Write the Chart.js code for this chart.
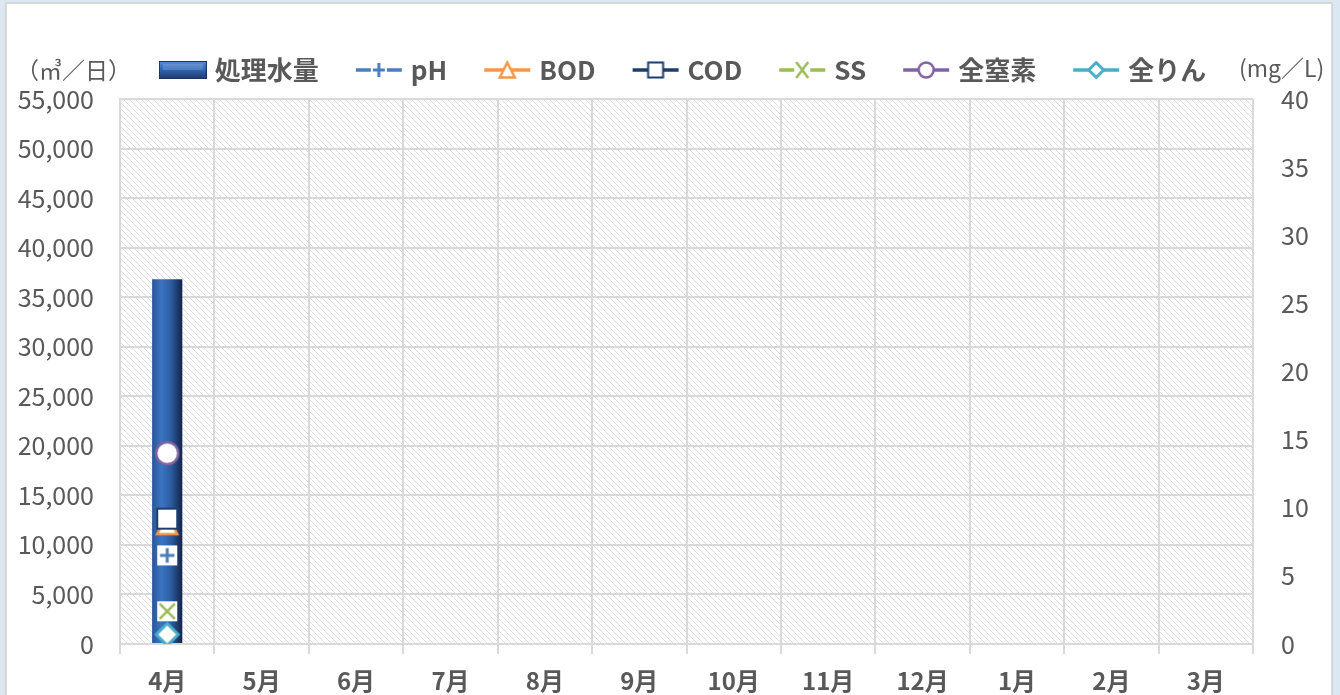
<!DOCTYPE html>
<html>
<head>
<meta charset="utf-8">
<script src="https://cdn.jsdelivr.net/npm/chart.js@4"></script>
<style>
  html, body { margin: 0; padding: 0; background: #fff; }
  #wrap { width: 1340px; height: 695px; }
</style>
</head>
<body>
<div id="wrap"><canvas id="chart" width="1340" height="695"></canvas></div>
<script>
// Data
const months = ['4月', '5月', '6月', '7月', '8月', '9月', '10月', '11月', '12月', '1月', '2月', '3月'];
const flow = [36800, null, null, null, null, null, null, null, null, null, null, null];
const ph = [6.5, null, null, null, null, null, null, null, null, null, null, null];
const bod = [8.8, null, null, null, null, null, null, null, null, null, null, null];
const cod = [9.2, null, null, null, null, null, null, null, null, null, null, null];
const ss = [2.4, null, null, null, null, null, null, null, null, null, null, null];
const tn = [14.0, null, null, null, null, null, null, null, null, null, null, null];
const tp = [0.7, null, null, null, null, null, null, null, null, null, null, null];

const seriesNames = ['処理水量', 'pH', 'BOD', 'COD', 'SS', '全窒素', '全りん'];
const leftTicks = [0, 5000, 10000, 15000, 20000, 25000, 30000, 35000, 40000, 45000, 50000, 55000];
const rightTicks = [0, 5, 10, 15, 20, 25, 30, 35, 40];

const FONT = "'Noto Sans CJK JP', 'Noto Sans', sans-serif";
const TEXT = '#595959';
const GRID = '#d9d9d9';

const colors = {
    ph: '#4a7ebb',
    bod: '#f79646',
    cod: '#1f3d6b',
    ss: '#9bbb59',
    tn: '#8064a2',
    tp: '#4bacc6'
};

// Marker drawing
function drawMarker(c, type, color, cx, cy, s) {
    c.save();
    c.lineJoin = 'miter';
    if (type === 'circle') {
        c.beginPath();
        c.arc(cx, cy, s / 2, 0, Math.PI * 2);
        c.fillStyle = '#fff';
        c.fill();
        c.lineWidth = 2.5;
        c.strokeStyle = color;
        c.stroke();
    } else if (type === 'square') {
        c.fillStyle = '#fff';
        c.fillRect(cx - s / 2, cy - s / 2, s, s);
        c.lineWidth = 2;
        c.strokeStyle = color;
        c.strokeRect(cx - s / 2, cy - s / 2, s, s);
    } else if (type === 'triangle') {
        c.beginPath();
        c.moveTo(cx, cy - s / 2);
        c.lineTo(cx + s / 2, cy + s / 2);
        c.lineTo(cx - s / 2, cy + s / 2);
        c.closePath();
        c.fillStyle = '#fff';
        c.fill();
        c.lineWidth = 2.5;
        c.strokeStyle = color;
        c.stroke();
    } else if (type === 'plus') {
        c.fillStyle = '#fff';
        c.fillRect(cx - s / 2, cy - s / 2, s, s);
        c.lineWidth = 3;
        c.strokeStyle = color;
        c.beginPath();
        c.moveTo(cx - s * 0.36, cy); c.lineTo(cx + s * 0.36, cy);
        c.moveTo(cx, cy - s * 0.36); c.lineTo(cx, cy + s * 0.36);
        c.stroke();
    } else if (type === 'cross') {
        c.fillStyle = '#fff';
        c.fillRect(cx - s / 2, cy - s / 2, s, s);
        c.lineWidth = 2.5;
        c.strokeStyle = color;
        c.beginPath();
        c.moveTo(cx - s * 0.38, cy - s * 0.38); c.lineTo(cx + s * 0.38, cy + s * 0.38);
        c.moveTo(cx + s * 0.38, cy - s * 0.38); c.lineTo(cx - s * 0.38, cy + s * 0.38);
        c.stroke();
    } else if (type === 'diamond') {
        c.beginPath();
        c.moveTo(cx, cy - s / 2);
        c.lineTo(cx + s / 2, cy);
        c.lineTo(cx, cy + s / 2);
        c.lineTo(cx - s / 2, cy);
        c.closePath();
        c.fillStyle = '#fff';
        c.fill();
        c.lineWidth = 3;
        c.strokeStyle = color;
        c.stroke();
    }
    c.restore();
}

function markerImage(type, color, s) {
    const cv = document.createElement('canvas');
    const size = s + 6;
    cv.width = size; cv.height = size;
    drawMarker(cv.getContext('2d'), type, color, size / 2, size / 2, s);
    return cv;
}

function legendLineImage(type, color) {
    const cv = document.createElement('canvas');
    cv.width = 48; cv.height = 22;
    const c = cv.getContext('2d');
    c.strokeStyle = color;
    c.lineWidth = 3.5;
    c.beginPath();
    c.moveTo(1, 11); c.lineTo(47, 11);
    c.stroke();
    if (type === 'plus') {
        c.fillStyle = '#fff';
        c.fillRect(16, 3, 16, 16);
        c.lineWidth = 3;
        c.beginPath();
        c.moveTo(18, 11); c.lineTo(30, 11);
        c.moveTo(24, 4); c.lineTo(24, 18);
        c.stroke();
    } else if (type === 'cross') {
        c.fillStyle = '#fff';
        c.fillRect(16, 2, 16, 18);
        c.lineWidth = 2.5;
        c.beginPath();
        c.moveTo(18, 3); c.lineTo(30, 19);
        c.moveTo(30, 3); c.lineTo(18, 19);
        c.stroke();
    } else {
        drawMarker(c, type, color, 24, 11, 15);
    }
    return cv;
}

function legendBarImage() {
    const cv = document.createElement('canvas');
    cv.width = 48; cv.height = 18;
    const c = cv.getContext('2d');
    const g = c.createLinearGradient(0, 0, 0, 18);
    g.addColorStop(0, '#5d8ed6');
    g.addColorStop(0.35, '#3a70c0');
    g.addColorStop(1, '#1b3a6e');
    c.fillStyle = g;
    c.fillRect(0, 0, 48, 18);
    c.strokeStyle = '#1a3260';
    c.lineWidth = 1;
    c.strokeRect(0.5, 0.5, 47, 17);
    c.fillStyle = 'rgba(255,255,255,0.15)';
    c.fillRect(4, 3, 40, 6);
    return cv;
}

const legendIcons = [
    legendBarImage(),
    legendLineImage('plus', colors.ph),
    legendLineImage('triangle', colors.bod),
    legendLineImage('square', colors.cod),
    legendLineImage('cross', colors.ss),
    legendLineImage('circle', colors.tn),
    legendLineImage('diamond', colors.tp)
];

// Hatch pattern for plot background
function hatchPattern(c) {
    const p = document.createElement('canvas');
    p.width = 6; p.height = 6;
    const pc = p.getContext('2d');
    pc.strokeStyle = '#dedede';
    pc.lineWidth = 1;
    pc.beginPath();
    pc.moveTo(-1, -1); pc.lineTo(7, 7);
    pc.moveTo(-1, 5); pc.lineTo(1, 7);
    pc.moveTo(5, -1); pc.lineTo(7, 1);
    pc.stroke();
    return c.createPattern(p, 'repeat');
}

const backgroundPlugin = {
    id: 'background',
    beforeDraw(chart) {
        const c = chart.ctx;
        const a = chart.chartArea;
        c.save();
        c.fillStyle = '#dbe7f1';
        c.fillRect(0, 0, chart.width, chart.height);
        c.fillStyle = '#fff';
        c.fillRect(6, 3, 1326, chart.height);
        c.strokeStyle = '#d0d0d0';
        c.lineWidth = 1.5;
        c.strokeRect(6, 3, 1326, chart.height + 5);
        c.fillStyle = hatchPattern(c);
        c.fillRect(a.left, a.top, a.right - a.left, a.bottom - a.top);
        c.restore();
    },
    afterDraw(chart) {
        const c = chart.ctx;
        c.save();
        c.fillStyle = TEXT;
        c.textBaseline = 'middle';
        c.textAlign = 'left';
        c.font = '23px ' + FONT;
        c.fillText('（㎥／日）', 16, 70);
        c.font = '23px ' + FONT;
        c.fillText('(mg／L)', 1239, 68);
        c.restore();
    }
};

// Legend box height fixed; items nudged to sit like the original
const legendHeightPlugin = {
    id: 'legendHeight',
    beforeInit(chart) {
        const legend = chart.legend;
        const origFit = legend.fit;
        legend.fit = function () {
            origFit.call(this);
            this.height = 78;
        };
        const origDraw = legend.draw;
        legend.draw = function () {
            this.ctx.save();
            this.ctx.translate(15, -5);
            origDraw.call(this);
            this.ctx.restore();
        };
    }
};

function lineSet(label, data, type, color, order) {
    return {
        type: 'line',
        label: label,
        data: data,
        yAxisID: 'y1',
        borderColor: color,
        backgroundColor: '#fff',
        borderWidth: 3,
        pointStyle: markerImage(type, color, type === 'diamond' ? 22 : (type === 'circle' ? 22 : 20)),
        order: order,
        spanGaps: false
    };
}

const ctx = document.getElementById('chart').getContext('2d');

new Chart(ctx, {
    type: 'bar',
    data: {
        labels: months,
        datasets: [
            {
                type: 'bar',
                label: seriesNames[0],
                data: flow,
                yAxisID: 'y',
                order: 10,
                barPercentage: 0.32,
                categoryPercentage: 1,
                borderWidth: 0,
                backgroundColor: function(context) {
                    const chart = context.chart;
                    if (!chart.chartArea) return '#2e5fa8';
                    const x = chart.scales.x.getPixelForValue(context.dataIndex);
                    const half = chart.scales.x.width / months.length * 0.32 / 2;
                    const g = chart.ctx.createLinearGradient(x - half, 0, x + half, 0);
                    g.addColorStop(0, '#2a5597');
                    g.addColorStop(0.3, '#3b74c2');
                    g.addColorStop(0.6, '#2e5fa6');
                    g.addColorStop(0.85, '#1d3a6c');
                    g.addColorStop(1, '#12244a');
                    return g;
                }
            },
            lineSet(seriesNames[1], ph, 'plus', colors.ph, 6),
            lineSet(seriesNames[2], bod, 'triangle', colors.bod, 5),
            lineSet(seriesNames[3], cod, 'square', colors.cod, 4),
            lineSet(seriesNames[4], ss, 'cross', colors.ss, 3),
            lineSet(seriesNames[5], tn, 'circle', colors.tn, 2),
            lineSet(seriesNames[6], tp, 'diamond', colors.tp, 1)
        ]
    },
    options: {
        responsive: false,
        animation: false,
        layout: { padding: { top: 21, left: 0, right: 0, bottom: 0 } },
        font: { family: FONT },
        plugins: {
            tooltip: { enabled: false },
            legend: {
                position: 'top',
                labels: {
                    usePointStyle: true,
                    pointStyleWidth: 38,
                    padding: 41,
                    color: TEXT,
                    font: { family: FONT, size: 26, weight: 'bold' },
                    sort: (a, b) => a.datasetIndex - b.datasetIndex,
                    generateLabels: function(chart) {
                        const items = Chart.defaults.plugins.legend.labels.generateLabels(chart);
                        items.forEach(it => { it.pointStyle = legendIcons[it.datasetIndex]; });
                        return items;
                    }
                }
            }
        },
        scales: {
            x: {
                grid: { color: GRID, lineWidth: 2, offset: true, drawTicks: true, tickLength: 10 },
                border: { color: GRID, width: 2 },
                ticks: {
                    color: TEXT,
                    font: { family: FONT, size: 24, weight: 'bold' },
                    padding: 12,
                    maxRotation: 0
                },
                afterFit: s => { s.height = 51; }
            },
            y: {
                position: 'left',
                min: 0,
                max: 55000,
                afterBuildTicks: s => { s.ticks = leftTicks.map(v => ({ value: v })); },
                grid: { color: GRID, lineWidth: 2, drawTicks: false },
                border: { color: GRID, width: 2 },
                ticks: {
                    color: TEXT,
                    font: { family: FONT, size: 25 },
                    padding: 26,
                    callback: v => v.toLocaleString('en-US')
                },
                afterFit: s => { s.width = 120; }
            },
            y1: {
                position: 'right',
                min: 0,
                max: 40,
                afterBuildTicks: s => { s.ticks = rightTicks.map(v => ({ value: v })); },
                grid: { display: false, drawTicks: false },
                border: { display: false },
                ticks: {
                    color: TEXT,
                    font: { family: FONT, size: 25 },
                    padding: 28
                },
                afterFit: s => { s.width = 87; }
            }
        }
    },
    plugins: [backgroundPlugin, legendHeightPlugin]
});
</script>
</body>
</html>
